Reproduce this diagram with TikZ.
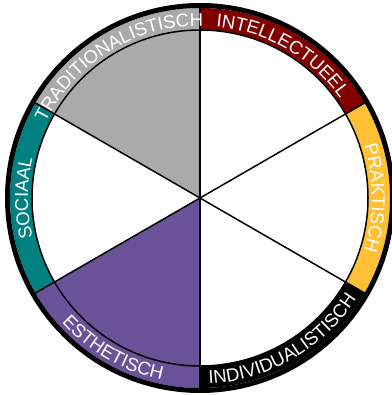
\documentclass[tikz,border=0pt]{standalone}
\usepackage{fontspec}
\setmainfont{Liberation Sans}
\usepackage{xcolor}
\usepackage{tikz}
\usetikzlibrary{decorations.text}
\definecolor{intelred}{RGB}{128,0,0}
\definecolor{praktgold}{RGB}{255,193,51}
\definecolor{esthpurple}{RGB}{106,82,153}
\definecolor{socteal}{RGB}{0,128,128}
\definecolor{tradgray}{RGB}{170,170,170}
\newcommand{\ringfont}{\fontsize{18.5}{21}\selectfont\color{white}}

\begin{document}
\begin{tikzpicture}[
    x=1pt, y=1pt,
    % ── Ring & wheel styles ──
    spoke/.style={line width=1.5pt, black},
    rim/.style={line width=5pt, black},
    hub/.style={line width=1.5pt, black},
    ringlabel/.style={decorate, decoration={text along path, text align=center,
                      text={|\ringfont|#1}}}
]
\useasboundingbox (-200,-197) rectangle (191,198);

% ═══ Inner wedges ═══
\fill[tradgray]   (0,0) -- (90:168)  arc[start angle=90,  end angle=150, radius=168pt] -- cycle;
\fill[esthpurple] (0,0) -- (210:168) arc[start angle=210, end angle=270, radius=168pt] -- cycle;

% ═══ Ring segments ═══
\foreach \a/\col in {30/intelred, -30/praktgold, -90/black, 210/esthpurple, 150/socteal, 90/tradgray}
  \fill[\col] (\a:168) arc[start angle=\a, end angle=\a+60, radius=168pt]
    -- (\a+60:190) arc[start angle=\a+60, end angle=\a, radius=190pt] -- cycle;

% ═══ Rim, hub circle and spokes ═══
\draw[rim] (0,0) circle[radius=192.5pt];
\draw[hub] (0,0) circle[radius=168pt];
\foreach \a in {90,30,-30,-90,-150,150}
  \draw[spoke] (0,0) -- (\a:190);

% ═══ Labels (clockwise, tops outward) ═══
\path[ringlabel=INTELLECTUEEL]      (100:172) arc[start angle=100, end angle=20,   radius=172pt];
\path[ringlabel=PRAKTISCH]          (40:172)  arc[start angle=40,  end angle=-40,  radius=172pt];
\path[ringlabel=SOCIAAL]            (220:172) arc[start angle=220, end angle=140,  radius=172pt];
\path[ringlabel=TRADITIONALISTISCH] (161.5:172) arc[start angle=161.5, end angle=81.5, radius=172pt];

% ═══ Labels (counter-clockwise, tops inward) ═══
\path[ringlabel=ESTHETISCH]         (200:186) arc[start angle=200, end angle=280,  radius=186pt];
\path[ringlabel=INDIVIDUALISTISCH]  (-100:186) arc[start angle=-100, end angle=-20, radius=186pt];

\end{tikzpicture}
\end{document}
